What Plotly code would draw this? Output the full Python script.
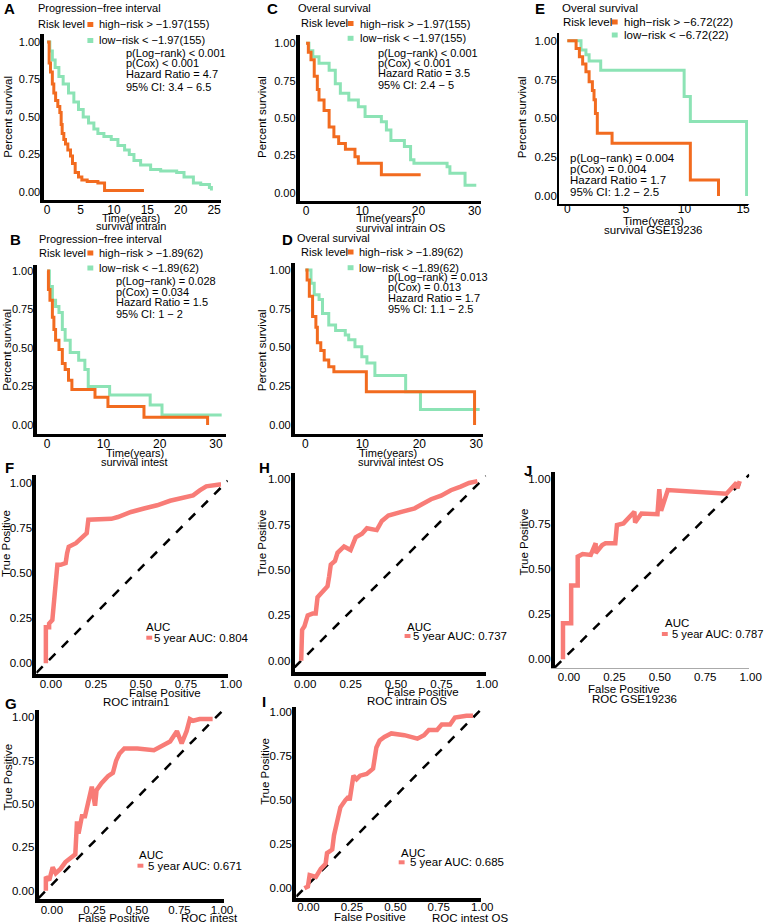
import plotly.graph_objects as go

W, H = 778, 924
FONT = "Liberation Sans, Arial, sans-serif"
ORANGE = "#F26B1F"
GREEN = "#8CE3B5"
ROC_COL = "#F87C77"

# ---------------- Kaplan-Meier data (time in years, survival) ----------------
A_high_t = [0, 0.3, 0.5, 0.78, 1.0, 1.27, 1.6, 1.9, 2.1, 2.25, 2.5, 2.75, 3.1, 3.5, 3.8, 4.2, 4.7, 5.2, 6.0, 7.6, 8.6, 14.5]
A_high_s = [1.0, 0.86, 0.80, 0.72, 0.66, 0.61, 0.57, 0.53, 0.45, 0.39, 0.35, 0.32, 0.28, 0.24, 0.19, 0.13, 0.10, 0.08, 0.07, 0.06, 0.01, 0.01]
A_low_t = [0, 0.4, 0.78, 1.2, 1.76, 2.4, 3.2, 4.0, 4.7, 5.4, 6.2, 7.0, 7.6, 8.5, 9.6, 10.6, 11.6, 12.3, 13.0, 14.0, 15.5, 17.0, 19.4, 20.5, 21.9, 23.0, 24.3, 24.6]
A_low_s = [1.0, 0.94, 0.88, 0.83, 0.77, 0.72, 0.66, 0.60, 0.55, 0.50, 0.46, 0.42, 0.39, 0.37, 0.35, 0.31, 0.28, 0.25, 0.21, 0.18, 0.15, 0.14, 0.13, 0.10, 0.06, 0.05, 0.03, 0.01]

B_high_t = [0, 0.23, 0.5, 0.93, 1.2, 1.5, 2.1, 2.7, 3.2, 3.8, 4.4, 8.5, 10.8, 17.2, 28.5]
B_high_s = [1.0, 0.88, 0.81, 0.70, 0.62, 0.55, 0.49, 0.40, 0.36, 0.29, 0.23, 0.18, 0.12, 0.05, 0.0]
B_low_t = [0, 0.4, 0.93, 1.5, 2.1, 2.7, 3.2, 4.1, 5.6, 6.7, 7.3, 11.1, 18.3, 20.4, 31.0]
B_low_s = [1.0, 0.90, 0.81, 0.77, 0.73, 0.62, 0.55, 0.47, 0.42, 0.36, 0.25, 0.195, 0.13, 0.065, 0.065]

C_high_t = [0, 0.4, 0.87, 1.45, 2.0, 2.3, 3.2, 4.1, 4.95, 5.8, 7.0, 8.7, 9.3, 13.4, 20.4]
C_high_s = [1.0, 0.94, 0.89, 0.78, 0.69, 0.62, 0.55, 0.44, 0.375, 0.33, 0.29, 0.24, 0.197, 0.12, 0.12]
C_low_t = [0, 0.5, 1.2, 2.3, 4.1, 5.2, 6.1, 7.6, 9.3, 10.5, 13.4, 14.3, 15.1, 17.5, 18.6, 19.2, 25.1, 25.6, 28.3, 30.3]
C_low_s = [1.0, 0.95, 0.91, 0.866, 0.82, 0.73, 0.665, 0.62, 0.575, 0.51, 0.475, 0.42, 0.35, 0.31, 0.22, 0.197, 0.174, 0.13, 0.05, 0.05]

D_high_t = [0, 0.3, 0.69, 1.26, 1.84, 2.1, 2.7, 3.3, 4.1, 5.0, 10.7, 29.7]
D_high_s = [1.0, 0.935, 0.83, 0.70, 0.63, 0.53, 0.48, 0.42, 0.376, 0.344, 0.215, 0.0]
D_low_t = [0, 0.98, 1.55, 2.4, 3.0, 4.1, 5.3, 7.0, 7.6, 8.7, 9.9, 10.8, 12.2, 17.6, 20.2, 30.6]
D_low_s = [1.0, 0.914, 0.84, 0.81, 0.72, 0.645, 0.61, 0.58, 0.55, 0.505, 0.44, 0.40, 0.32, 0.215, 0.10, 0.10]

E_high_t = [0, 0.75, 1.03, 1.31, 1.59, 1.86, 2.14, 2.28, 2.4, 2.56, 3.82, 10.5, 12.9]
E_high_s = [1.0, 0.95, 0.897, 0.85, 0.80, 0.735, 0.68, 0.62, 0.532, 0.404, 0.34, 0.103, 0.0]
E_low_t = [0, 1.17, 1.59, 1.86, 2.85, 9.97, 10.5, 15.3]
E_low_s = [1.0, 0.94, 0.91, 0.87, 0.81, 0.64, 0.48, 0.0]

# ---------------- ROC data (false positive, true positive) ----------------
F_fpr = [0, 0, 0.018, 0.018, 0.036, 0.045, 0.055, 0.064, 0.082, 0.11, 0.118, 0.127, 0.167, 0.2, 0.227, 0.236, 0.29, 0.364, 0.4, 0.473, 0.545, 0.618, 0.69, 0.764, 0.818, 0.855, 0.891, 0.964, 0.973]
F_tpr = [0, 0.20, 0.20, 0.22, 0.24, 0.33, 0.48, 0.545, 0.545, 0.555, 0.61, 0.645, 0.665, 0.70, 0.72, 0.795, 0.795, 0.80, 0.81, 0.838, 0.857, 0.875, 0.90, 0.92, 0.93, 0.957, 0.98, 0.99, 0.99]
G_fpr = [0, 0, 0.02, 0.04, 0.058, 0.087, 0.115, 0.154, 0.173, 0.183, 0.192, 0.212, 0.23, 0.27, 0.289, 0.298, 0.327, 0.365, 0.394, 0.413, 0.432, 0.461, 0.538, 0.635, 0.692, 0.73, 0.77, 0.798, 0.827, 0.846, 0.865, 0.904, 0.98]
G_tpr = [0, 0.08, 0.06, 0.135, 0.10, 0.127, 0.165, 0.19, 0.21, 0.40, 0.33, 0.43, 0.43, 0.60, 0.49, 0.58, 0.62, 0.66, 0.68, 0.75, 0.79, 0.82, 0.82, 0.81, 0.84, 0.86, 0.92, 0.85, 0.92, 0.99, 0.98, 0.99, 0.99]
H_fpr = [0, 0.005, 0.018, 0.036, 0.063, 0.08, 0.09, 0.118, 0.145, 0.154, 0.163, 0.186, 0.2, 0.236, 0.272, 0.3, 0.335, 0.362, 0.416, 0.444, 0.48, 0.552, 0.625, 0.66, 0.715, 0.77, 0.824, 0.878, 0.924, 0.97]
H_tpr = [0, 0.17, 0.19, 0.25, 0.26, 0.26, 0.35, 0.38, 0.41, 0.465, 0.53, 0.55, 0.595, 0.63, 0.61, 0.68, 0.70, 0.73, 0.72, 0.77, 0.80, 0.82, 0.84, 0.86, 0.89, 0.91, 0.94, 0.96, 0.98, 0.99]
I_fpr = [0, 0.02, 0.03, 0.066, 0.094, 0.122, 0.13, 0.16, 0.17, 0.188, 0.207, 0.235, 0.254, 0.26, 0.282, 0.30, 0.32, 0.358, 0.395, 0.414, 0.433, 0.46, 0.50, 0.575, 0.65, 0.688, 0.716, 0.763, 0.79, 0.838, 0.866, 0.932, 0.97]
I_tpr = [0, 0.01, 0.075, 0.065, 0.11, 0.14, 0.20, 0.22, 0.30, 0.39, 0.46, 0.50, 0.52, 0.50, 0.64, 0.62, 0.64, 0.65, 0.68, 0.80, 0.84, 0.86, 0.88, 0.87, 0.85, 0.87, 0.90, 0.90, 0.93, 0.93, 0.97, 0.98, 0.98]
J_fpr = [0, 0, 0.045, 0.045, 0.081, 0.081, 0.108, 0.153, 0.18, 0.18, 0.216, 0.234, 0.288, 0.297, 0.333, 0.37, 0.393, 0.397, 0.432, 0.52, 0.53, 0.54, 0.577, 0.90, 0.955, 0.96, 0.973]
J_tpr = [0, 0.20, 0.20, 0.41, 0.41, 0.57, 0.585, 0.58, 0.645, 0.59, 0.635, 0.645, 0.645, 0.746, 0.755, 0.79, 0.82, 0.76, 0.81, 0.806, 0.945, 0.825, 0.94, 0.92, 0.98, 0.95, 0.99]

# ---------------- tick labels ----------------
SURV_TICKS = [0, 0.25, 0.5, 0.75, 1.0]
SURV_LABELS = ["0.00", "0.25", "0.50", "0.75", "1.00"]
ROC_TICKS = [0, 0.25, 0.5, 0.75, 1.0]
ROC_LABELS = ["0.00", "0.25", "0.50", "0.75", "1.00"]
TIME_TICKS_25 = [0, 5, 10, 15, 20, 25]
TIME_TICKS_30 = [0, 10, 20, 30]
TIME_TICKS_15 = [0, 5, 10, 15]

fig = go.Figure()


def px(x):
    return x / W


def py(y):
    return 1 - y / H


def lin(p, p0, v0, p1, v1):
    return v0 + (p - p0) * (v1 - v0) / (p1 - p0)


def setup(idx, L, R, T, B, xcal, ycal, xt, xlabels, yt, ylabels, xlw, ylw,
          xlc="black", fs=11, xfs=None, xshift=0, xstand=-2, ystand=-2):
    sfx = "" if idx == 1 else str(idx)
    xr = [lin(L, *xcal), lin(R, *xcal)]
    yr = [lin(B, *ycal), lin(T, *ycal)]
    common = dict(showgrid=False, zeroline=False, showline=True, ticks="", ticklen=0,
                  fixedrange=True)
    fig.layout["xaxis" + sfx] = dict(domain=[px(L), px(R)], range=xr, anchor="y" + sfx,
                                    tickvals=xt, ticktext=xlabels,
                                    tickfont=dict(size=xfs or fs, color="black", family=FONT),
                                    linecolor=xlc, linewidth=xlw,
                                    ticklabelshift=xshift, ticklabelstandoff=xstand, **common)
    fig.layout["yaxis" + sfx] = dict(domain=[py(B), py(T)], range=yr, anchor="x" + sfx,
                                    tickvals=yt, ticktext=ylabels, linecolor="black",
                                    tickfont=dict(size=fs, color="black", family=FONT),
                                    linewidth=ylw, ticklabelstandoff=ystand, **common)
    return "x" + sfx, "y" + sfx, xr, yr


annotations = []
shapes = []


def ann(text, x, y, size=11, xanchor="left", angle=0, bold=False):
    if bold:
        text = "<b>" + text + "</b>"
    annotations.append(dict(text=text, x=px(x), y=py(y), xref="paper", yref="paper",
                            xanchor=xanchor, yanchor="middle", showarrow=False,
                            textangle=angle, font=dict(size=size, color="black", family=FONT)))


def key(cx, cy, color, w=6, h=5):
    shapes.append(dict(type="rect", xref="paper", yref="paper",
                       x0=px(cx - w / 2), x1=px(cx + w / 2), y0=py(cy + h / 2), y1=py(cy - h / 2),
                       fillcolor=color, line=dict(width=0)))


geom_style = {
    1: dict(xlw=2.5, ylw=3.5, xstand=-3, xfs=12),
    2: dict(xlw=2.5, ylw=3.5, xstand=-3, xfs=12),
    3: dict(xlw=2.5, ylw=3.5, xstand=-3, xfs=12),
    4: dict(xlw=2.5, ylw=3.5, xstand=-3, xfs=12),
    5: dict(xlw=1.8, ylw=1.8, fs=11.5, xfs=12, xstand=-7),
    6: dict(xlw=3.5, ylw=4, fs=11.5, xshift=5, xstand=-4),
    7: dict(xlw=3.5, ylw=4, fs=11.5, xshift=6, xstand=-3),
    8: dict(xlw=3.5, ylw=4, fs=11.5, xshift=4, xstand=-1),
    9: dict(xlw=3.5, ylw=4, fs=11.5, xshift=4, xstand=-5),
    10: dict(xlw=1, ylw=4, fs=11.5, xshift=6, xlc="#AAAAAA", xstand=-2),
}


def km(idx, geom, xt, ht, hs, lt, ls):
    xa, ya, xr, yr = setup(idx, *geom, xt=xt, xlabels=[str(v) for v in xt],
                           yt=SURV_TICKS, ylabels=SURV_LABELS, **geom_style[idx])
    fig.add_trace(go.Scatter(x=lt, y=ls, mode="lines", line=dict(color=GREEN, width=3, shape="hv"),
                             xaxis=xa, yaxis=ya, hoverinfo="skip"))
    fig.add_trace(go.Scatter(x=ht, y=hs, mode="lines", line=dict(color=ORANGE, width=3, shape="hv"),
                             xaxis=xa, yaxis=ya, hoverinfo="skip"))


def roc(idx, geom, fpr, tpr):
    xa, ya, xr, yr = setup(idx, *geom, xt=ROC_TICKS, xlabels=ROC_LABELS,
                           yt=ROC_TICKS, ylabels=ROC_LABELS, **geom_style[idx])
    v0 = max(xr[0], yr[0])
    v1 = min(xr[1], yr[1])
    fig.add_trace(go.Scatter(x=[v0, v1], y=[v0, v1], mode="lines",
                             line=dict(color="black", width=2.5, dash="dash"),
                             xaxis=xa, yaxis=ya, hoverinfo="skip"))
    fig.add_trace(go.Scatter(x=fpr, y=tpr, mode="lines", line=dict(color=ROC_COL, width=4.5),
                             xaxis=xa, yaxis=ya, hoverinfo="skip"))


# geometry: L, R, T, B (pixels), x calibration, y calibration
km(1, (45, 225, 34, 200, (48, 0, 218, 25), (192, 0, 42, 1)), TIME_TICKS_25, A_high_t, A_high_s, A_low_t, A_low_s)
km(2, (38, 230, 265, 434, (48, 0, 220, 30), (425, 0, 271, 1)), TIME_TICKS_30, B_high_t, B_high_s, B_low_t, B_low_s)
km(3, (305, 490, 35, 201, (311.7, 0, 483.3, 30), (192.7, 0, 43.3, 1)), TIME_TICKS_30, C_high_t, C_high_s, C_low_t, C_low_s)
km(4, (300, 491.7, 263, 434, (311, 0, 485, 30), (425, 0, 270, 1)), TIME_TICKS_30, D_high_t, D_high_s, D_low_t, D_low_s)
km(5, (569.3, 761.7, 33.3, 204, (577.7, 0, 756.7, 15), (196, 0, 40.7, 1)), TIME_TICKS_15, E_high_t, E_high_s, E_low_t, E_low_s)

roc(6, (37, 232, 475, 674, (46.7, 0, 230, 1), (663.3, 0, 482.7, 1)), F_fpr, F_tpr)
roc(7, (39.3, 228.3, 710, 899.3, (46.7, 0, 220, 1), (890.7, 0, 717.3, 1)), G_fpr, G_tpr)
roc(8, (300, 495, 473.3, 671.7, (306.7, 0, 491.7, 1), (660.7, 0, 479.3, 1)), H_fpr, H_tpr)
roc(9, (301.7, 490, 706.7, 898.3, (310, 0, 487, 1), (888.3, 0, 712.3, 1)), I_fpr, I_tpr)
roc(10, (565, 763, 471.7, 668, (573.3, 0, 758.3, 1), (659.3, 0, 479.3, 1)), J_fpr, J_tpr)

# ---------------- KM panel texts ----------------
km_text = [
    ("A", (2, 9), "Progression−free interval", (37, 8), (37, 24), 92, 99,
     "high−risk > −1.97(155)", "low−risk < −1.97(155)", (24.5, 40.5),
     ["p(Log−rank) < 0.001", "p(Cox) < 0.001", "Hazard Ratio = 4.7", "95% CI: 3.4 − 6.5"],
     126.7, [53, 63.3, 74, 86.7], (8, 117), ((133, 218), (133, 226.5), "survival intrain")),
    ("B", (8, 240), "Progression−free interval", (38, 239), (38, 253), 92, 99,
     "high−risk > −1.89(62)", "low−risk < −1.89(62)", (253, 268),
     ["p(Log−rank) = 0.028", "p(Cox) = 0.034", "Hazard Ratio = 1.5", "95% CI: 1 − 2"],
     115.7, [281, 291.7, 302.3, 314.3], (7, 350), ((137, 453), (137, 462), "survival intest")),
    ("C", (270, 9), "Overal survival", (301.7, 8), (304.3, 23.3), 357, 365,
     "high−risk > −1.97(155)", "low−risk < −1.97(155)", (23.5, 38.3),
     ["p(Log−rank) < 0.001", "p(Cox) < 0.001", "Hazard Ratio = 3.5", "95% CI: 2.4 − 5"],
     382.7, [52.7, 62.7, 73.3, 85], (266.7, 117), ((393, 218), (408, 228), "survival intrain OS")),
    ("D", (285, 240), "Overal survival", (300, 238), (304, 252), 357, 364,
     "high−risk > −1.89(62)", "low−risk < −1.89(62)", (252, 267.7),
     ["p(Log−rank) = 0.013", "p(Cox) = 0.013", "Hazard Ratio = 1.7", "95% CI: 1.1 − 2.5"],
     393.3, [277.3, 287.3, 298, 309.3], (267, 350), ((395, 453), (408, 462), "survival intest OS")),
    ("E", (543, 9), "Overal survival", (570, 8), (571.7, 21.7), 626, 633,
     "high−risk > −6.72(22)", "low−risk < −6.72(22)", (22, 35),
     ["p(Log−rank) = 0.004", "p(Cox) = 0.004", "Hazard Ratio = 1.7", "95% CI: 1.2 − 2.5"],
     578, [158, 169, 180, 192], (531.7, 117), ((665, 220.7), (665, 230), "survival GSE19236")),
]

for (let, lpos, title, tpos, rpos, kx, tx, hi, lo, kys, stats, sx, sys_, ylab, xlab) in km_text:
    fs = 11.5 if let == "E" else 11
    ann(let, lpos[0], lpos[1], size=15, bold=True)
    ann(title, tpos[0], tpos[1], size=fs)
    ann("Risk level", rpos[0], rpos[1], size=fs)
    key(kx, kys[0], ORANGE)
    key(kx, kys[1], GREEN)
    ann(hi, tx, kys[0], size=fs)
    ann(lo, tx, kys[1], size=fs)
    for s, yy in zip(stats, sys_):
        ann(s, sx, yy, size=fs)
    ann("Percent survival", ylab[0], ylab[1], size=11.5, xanchor="center", angle=-90)
    ann("Time(years)", xlab[0][0], xlab[0][1], size=fs, xanchor="center")
    ann(xlab[2], xlab[1][0], xlab[1][1], size=fs, xanchor="center")

# ---------------- ROC panel texts ----------------
roc_text = [
    ("F", (3, 468), (146.7, 626.7), (152, 637.7), (155, 637.7), "5 year AUC: 0.804", (6, 543),
     (168, 692.7), (138, 701.7), "ROC intrain1"),
    ("G", (3, 703), (140, 855), (143, 865.7), (148.3, 865.7), "5 year AUC: 0.671", (8, 776.7),
     (116, 918.3), (213, 918.3), "ROC intest"),
    ("H", (262, 468), (412.3, 626.7), (415, 636), (419, 636), "5 year AUC: 0.737", (267, 543),
     (430.7, 692.3), (414, 700.7), "ROC intrain OS"),
    ("I", (265, 701.7), (406.7, 852.7), (409, 862.3), (415, 862.3), "5 year AUC: 0.685", (270, 771.7),
     (376.7, 917.3), (478.7, 918), "ROC intest OS"),
    ("J", (532, 470), (675, 623.3), (677, 634), (682.5, 634), "5 year AUC: 0.787", (533.3, 541.7),
     (635, 689), (646, 699), "ROC GSE19236"),
]
for (let, lpos, apos, kpos, tpos, txt, ylab, fpos, rpos, rtxt) in roc_text:
    ann(let, lpos[0], lpos[1], size=15, bold=True)
    ann("AUC", apos[0], apos[1], size=11.5)
    key(kpos[0], kpos[1], ROC_COL, w=6, h=4)
    ann(txt, tpos[0], tpos[1], size=11.2 if let == "J" else 11.5)
    ann("True Positive", ylab[0], ylab[1], size=11.5, xanchor="center", angle=-90)
    ann("False Positive", fpos[0], fpos[1], size=11.5, xanchor="center")
    ann(rtxt, rpos[0], rpos[1], size=11.5, xanchor="center")

fig.update_layout(width=W, height=H, margin=dict(l=0, r=0, t=0, b=0),
                  plot_bgcolor="white", paper_bgcolor="white", showlegend=False,
                  annotations=annotations, shapes=shapes,
                  font=dict(family=FONT, color="black"))

fig.write_html("out.html", config={"displayModeBar": False},
               post_script="document.body.style.margin='0';")
